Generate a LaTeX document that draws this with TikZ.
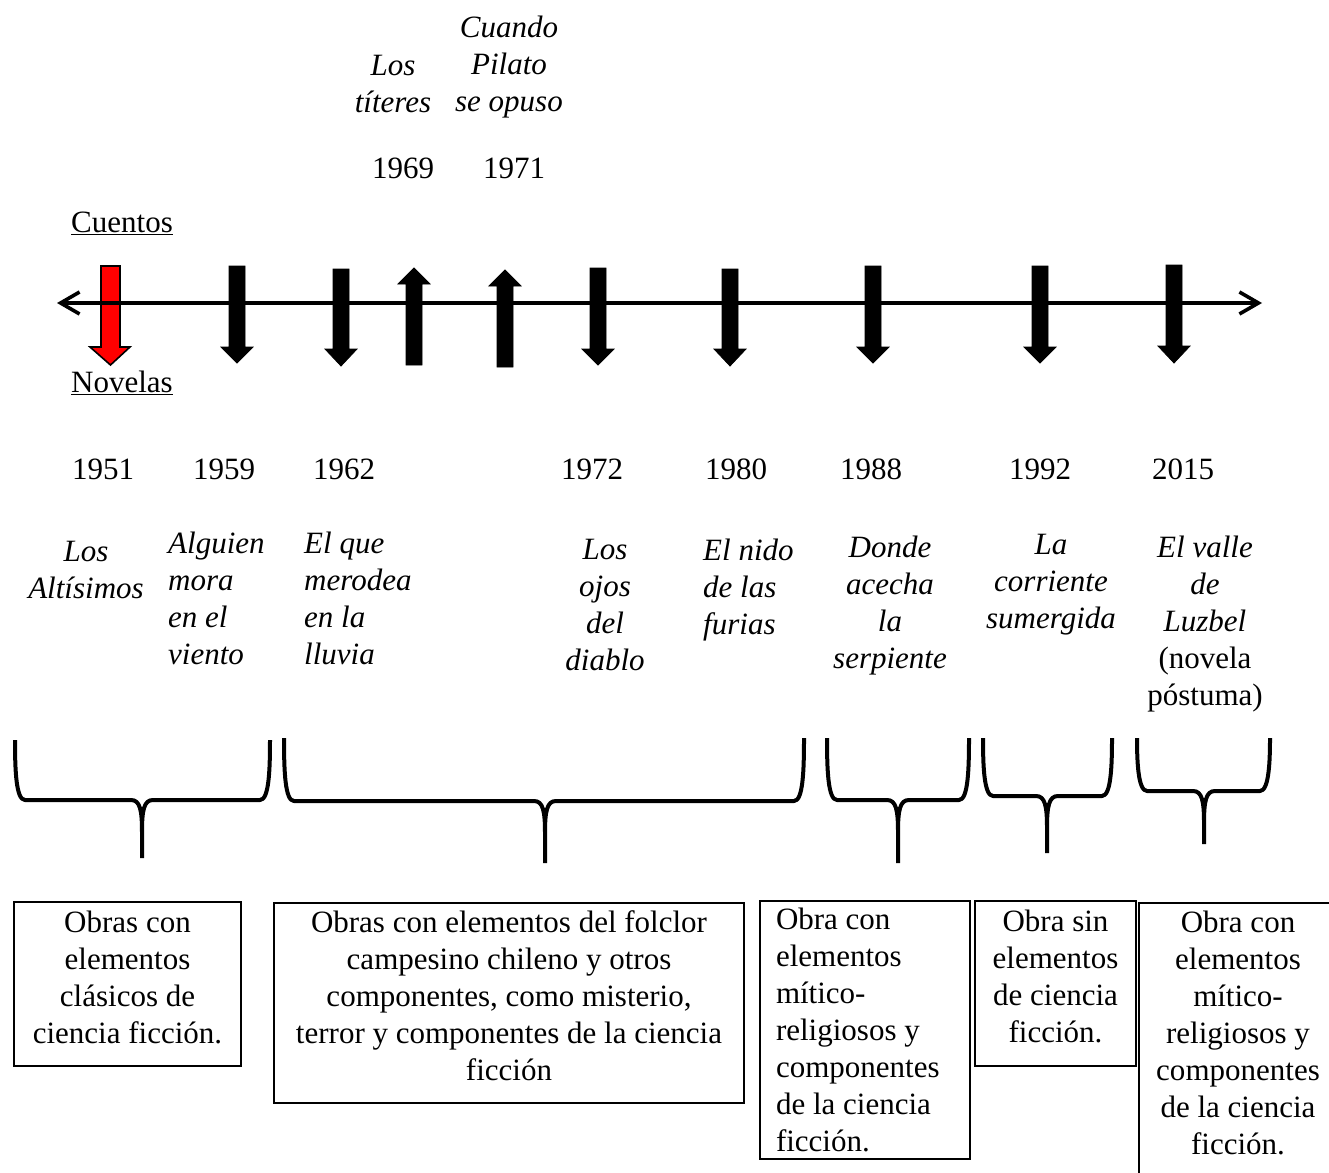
\documentclass[tikz,border=0pt]{standalone}
\usepackage{fontspec}
\setmainfont{Liberation Serif}
\usetikzlibrary{arrows.meta}
\begin{document}
\begin{tikzpicture}[x=1pt,y=-1pt,
  txt/.style={font=\fontsize{31}{37}\selectfont, inner sep=0pt, align=center},
  ttl/.style={font=\fontsize{31}{37}\selectfont\itshape, inner sep=0pt, align=center},
  ttlL/.style={ttl, align=left, anchor=west},
  box/.style={draw, line width=1.6pt, font=\fontsize{31}{37}\selectfont, align=center, inner sep=0pt},
  brc/.style={line width=4pt, line join=round},
  blk/.style={fill=black, draw=black, line width=0.8pt},
  redarr/.style={fill=red, draw=black, line width=1.6pt},
  axis/.style={line width=3.6pt, {Straight Barb[length=19pt,width=22pt]}-{Straight Barb[length=19pt,width=22pt]}}]

\path[use as bounding box, clip] (0,0) rectangle (1329,1172);
\fill[white] (0,0) rectangle (1329,1172);

% block arrows
\newcommand\darr[5][blk]{\draw[#1] (#2-8,#3) -- (#2+8,#3) -- (#2+8,#4) -- (#2+16,#4) -- (#2,#5) -- (#2-16,#4) -- (#2-8,#4) -- cycle;}
\draw[redarr] (101,266) -- (120,266) -- (120,347) -- (130,347) -- (110.5,365) -- (90,347) -- (101,347) -- cycle;
\darr{237}{266}{347}{363}
\darr{341}{269}{349}{366}
\darr{414}{365}{284}{268}
\darr{505}{367}{286}{270}
\darr{598}{268}{349}{365}
\darr{730}{269}{349}{366}
\darr{873}{266}{347}{363}
\darr{1040}{266}{347}{363}
\darr{1174}{265}{346}{363}

% timeline
\coordinate (tl) at (57,303);
\coordinate (tr) at (1262,303);
\draw[axis] (tl) -- (tr);

% labels
\node[txt, anchor=base west] (cuentos) at (71,232) {\underline{Cuentos}};
\node[txt, anchor=base west] (novelas) at (71,392) {\underline{Novelas}};

% top titles and years
\node[ttl] (t69) at (393,84) {Los\\títeres};
\node[ttl] (t71) at (509,67) {Cuando\\Pilato\\se opuso};
\node[txt] (y69) at (403,168) {1969};
\node[txt] (y71) at (514,168) {1971};

% bottom years
\node[txt] (y51) at (103,469) {1951};
\node[txt] (y59) at (224,469) {1959};
\node[txt] (y62) at (344,469) {1962};
\node[txt] (y72) at (592,469) {1972};
\node[txt] (y80) at (736,469) {1980};
\node[txt] (y88) at (871,469) {1988};
\node[txt] (y92) at (1040,469) {1992};
\node[txt] (y15) at (1183,469) {2015};

% bottom titles
\node[ttl] (n51) at (86,570) {Los\\Altísimos};
\node[ttlL] (n59) at (168,598) {Alguien\\mora\\en el\\viento};
\node[ttlL] (n62) at (304,598) {El que\\merodea\\en la\\lluvia};
\node[ttl] (n72) at (605,605) {Los\\ojos\\del\\diablo};
\node[ttlL] (n80) at (703,590) {El nido\\de las\\furias};
\node[ttl] (n88) at (890,606) {Donde\\acecha\\la\\serpiente};
\node[ttl] (n92) at (1051,585) {La\\corriente\\sumergida};
\node[ttl] (n15) at (1205,624) {El valle\\de\\Luzbel\\\upshape(novela\\\upshape póstuma)};

% braces
\newcommand\mybrace[6]{\draw[brc] (#1,#4) .. controls (#1,#5-30) and (#1+1,#5) .. (#1+10,#5) -- (#3-11,#5) .. controls (#3-2,#5) and (#3,#5+10) .. (#3,#5+32) -- (#3,#6)
  (#3,#5+32) .. controls (#3,#5+10) and (#3+2,#5) .. (#3+11,#5) -- (#2-10,#5) .. controls (#2-1,#5) and (#2,#5-30) .. (#2,#4);}
\mybrace{15}{270}{142}{740}{800}{858}
\mybrace{284}{804}{545}{738}{801}{863}
\mybrace{827}{969}{898}{738}{800}{863}
\mybrace{983}{1112}{1047}{738}{796}{853}
\mybrace{1137}{1270}{1204}{738}{791}{844}

% boxes
\node[box, minimum width=227, minimum height=164, text depth=14pt] (b1) at (127.5,984) {Obras con\\elementos\\clásicos de\\ciencia ficción.};
\node[box, minimum width=470, minimum height=200, text depth=14pt] (b2) at (509,1003) {Obras con elementos del folclor\\campesino chileno y otros\\componentes, como misterio,\\terror y componentes de la ciencia\\ficción};
\node[box, minimum width=210, minimum height=258, align=flush left, text width=178, inner xsep=16] (b3) at (865,1030) {Obra con\\elementos\\mítico-\\religiosos y\\componentes\\de la ciencia\\ficción.};
\node[box, minimum width=161, minimum height=165, text depth=14pt] (b4) at (1055.5,983.5) {Obra sin\\elementos\\de ciencia\\ficción.};
\node[box, minimum width=260, minimum height=300] (b5box) at (1269,1053) {};
\node[txt] (b5) at (1238,1033) {Obra con\\elementos\\mítico-\\religiosos y\\componentes\\de la ciencia\\ficción.};
\end{tikzpicture}
\end{document}
